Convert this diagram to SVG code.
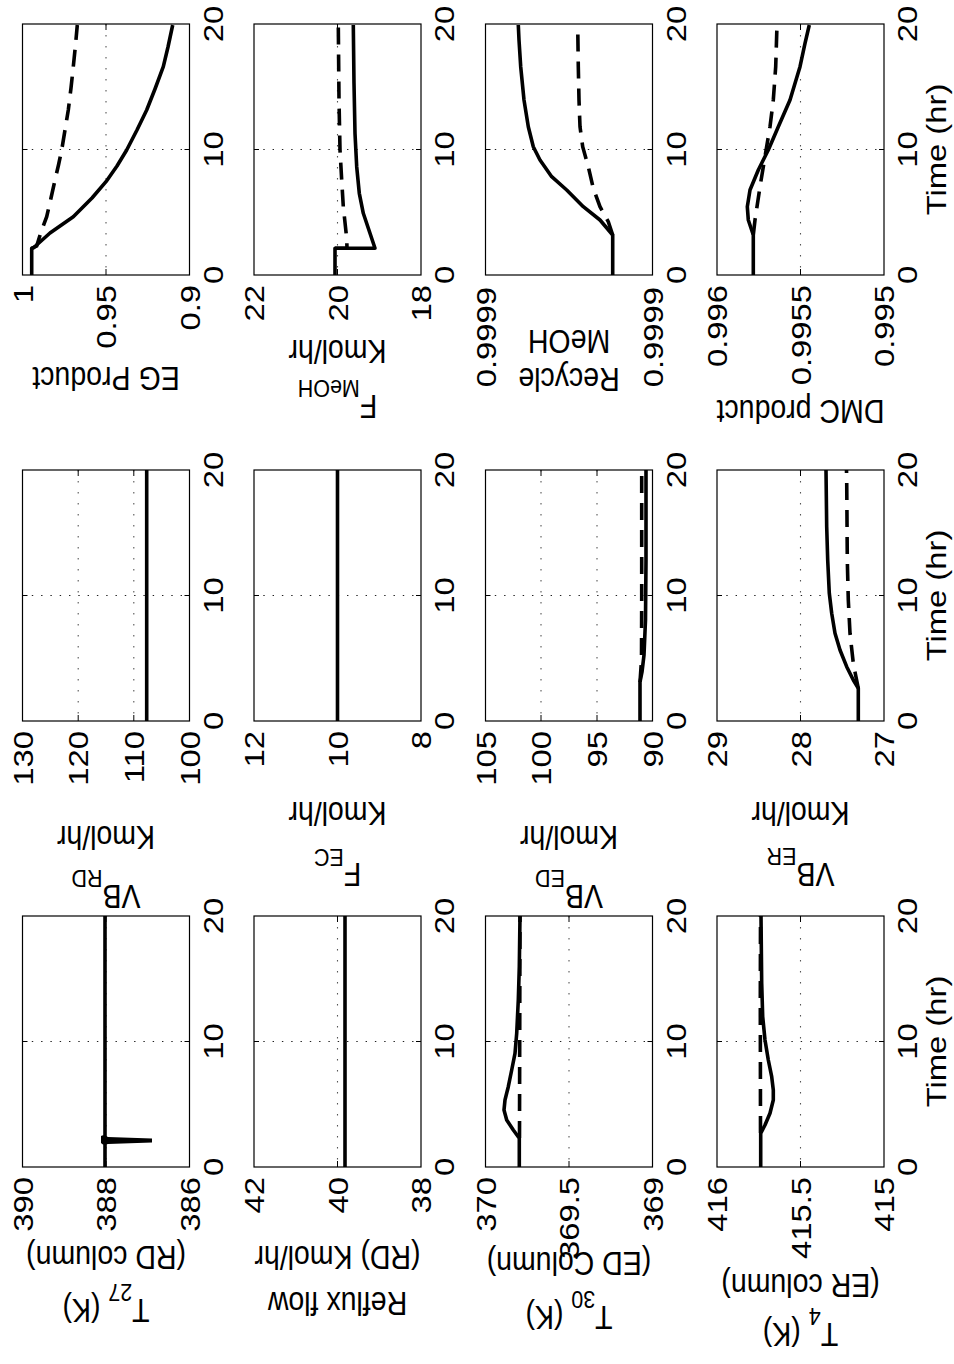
<svg xmlns="http://www.w3.org/2000/svg" width="954" height="1364" viewBox="0 0 954 1364">
<style>
.box{fill:none;stroke:#000;stroke-width:1.2}
.tk{stroke:#000;stroke-width:1}
.gh{stroke:#222;stroke-width:1.1;stroke-dasharray:1.4 7.9}
.gv{stroke:#555;stroke-width:1.1;stroke-dasharray:1.6 9.4}
.s{fill:none;stroke:#000;stroke-width:3.6;stroke-linejoin:round;stroke-linecap:butt}
.d{fill:none;stroke:#000;stroke-width:3.6;stroke-dasharray:17 10}
text{font-family:"Liberation Sans",Arial,Helvetica,sans-serif;font-size:28.5px;fill:#000}
.m{text-anchor:middle}
.e{text-anchor:end}
.sub{font-size:21.5px}
</style>
<rect width="954" height="1364" fill="#fff"/>

<!-- ===== Plot EG Product ===== -->
<g id="plot-eg-product">
<line class="gh" x1="22.5" y1="149.5" x2="189.5" y2="149.5"/>
<line class="gv" x1="106" y1="24" x2="106" y2="275"/>
<path class="tk" d="M106,24v6M106,275v-6M22.5,149.5h5M189.5,149.5h-5"/>
<polyline class="d" points="31.7,248.3 36.7,246 41,232 46.7,216.7 51,198 55,180 58.5,165 61.7,150 65,130 68.3,110 71,88 73.3,66.7 75.5,45 77.3,25"/>
<polyline class="s" points="31.7,275 31.7,248.3 33.3,248 50,233 73.3,216.7 92,198 106,181.7 117,166 126.7,150 137,130 146.7,110 155,89 163.3,66.7 168,47 172.7,25"/>
<rect class="box" x="22.5" y="24" width="167" height="251"/>
<text class="e" transform="translate(32.7,285) scale(1,1.15) rotate(-90)">1</text>
<text class="e" transform="translate(116.2,285) scale(1,1.15) rotate(-90)">0.95</text>
<text class="e" transform="translate(199.7,285) scale(1,1.15) rotate(-90)">0.9</text>
<text class="m" transform="translate(222.5,275) scale(1,1.15) rotate(-90)">0</text>
<text class="m" transform="translate(222.5,149.5) scale(1,1.15) rotate(-90)">10</text>
<text class="m" transform="translate(222.5,24) scale(1,1.15) rotate(-90)">20</text>
<text class="m" transform="translate(106,367) scale(1,1.15) rotate(180)">EG Product</text>
</g>

<!-- ===== Plot F_MeOH ===== -->
<g id="plot-f-meoh">
<line class="gh" x1="254" y1="149.5" x2="421" y2="149.5"/>
<line class="gv" x1="337.5" y1="24" x2="337.5" y2="275"/>
<path class="tk" d="M337.5,24v6M337.5,275v-6M254,149.5h5M421,149.5h-5"/>
<polyline class="d" points="335,248.3 347,248.3 346.7,238.3 343.3,206.7 341.7,180 340,150 339,100 338.3,25"/>
<polyline class="s" points="335,275 335,248.3 375,248.3 370,233.3 363.3,213.3 359.3,193.3 356.7,166.7 355,133.3 354,83.3 353.3,25"/>
<rect class="box" x="254" y="24" width="167" height="251"/>
<text class="e" transform="translate(264.2,285) scale(1,1.15) rotate(-90)">22</text>
<text class="e" transform="translate(347.7,285) scale(1,1.15) rotate(-90)">20</text>
<text class="e" transform="translate(431.2,285) scale(1,1.15) rotate(-90)">18</text>
<text class="m" transform="translate(454,275) scale(1,1.15) rotate(-90)">0</text>
<text class="m" transform="translate(454,149.5) scale(1,1.15) rotate(-90)">10</text>
<text class="m" transform="translate(454,24) scale(1,1.15) rotate(-90)">20</text>
<text class="m" transform="translate(337.5,340) scale(1,1.15) rotate(180)">Kmol/hr</text>
<text class="m" transform="translate(337.5,395) scale(1,1.15) rotate(180)">F<tspan class="sub" dy="13">MeOH</tspan></text>
</g>

<!-- ===== Plot Recycle MeOH ===== -->
<g id="plot-recycle-meoh">
<line class="gh" x1="485.5" y1="149.5" x2="652.5" y2="149.5"/>
<path class="tk" d="M485.5,149.5h5M652.5,149.5h-5"/>
<polyline class="d" points="612.7,235 608.3,221.7 600,206.7 593.3,188.3 588.3,166.7 582.7,146.7 580,126.7 579,100 578.3,66.7 577.7,25"/>
<polyline class="s" points="612.7,275 612.7,235 600,220 583.3,206.7 566.7,190 551.7,176.7 540,160 533.3,146.7 528.3,126.7 524,100 520.7,66.7 519,40 518.3,25"/>
<rect class="box" x="485.5" y="24" width="167" height="251"/>
<text class="e" transform="translate(495.7,287) scale(1,1.15) rotate(-90)">0.9999</text>
<text class="e" transform="translate(662.7,287) scale(1,1.15) rotate(-90)">0.9999</text>
<text class="m" transform="translate(685.5,275) scale(1,1.15) rotate(-90)">0</text>
<text class="m" transform="translate(685.5,149.5) scale(1,1.15) rotate(-90)">10</text>
<text class="m" transform="translate(685.5,24) scale(1,1.15) rotate(-90)">20</text>
<text class="m" transform="translate(569,330) scale(1,1.15) rotate(180)">MeOH</text>
<text class="m" transform="translate(569,368) scale(1,1.15) rotate(180)">Recycle</text>
</g>

<!-- ===== Plot DMC product ===== -->
<g id="plot-dmc-product">
<line class="gh" x1="717" y1="149.5" x2="884" y2="149.5"/>
<line class="gv" x1="800.5" y1="24" x2="800.5" y2="275"/>
<path class="tk" d="M800.5,24v6M800.5,275v-6M717,149.5h5M884,149.5h-5"/>
<polyline class="d" points="753.3,235 755,220 760,186.7 765,156.7 770,126.7 773.3,100 775.7,66.7 777,25"/>
<polyline class="s" points="753.3,275 753.3,235 748.3,220 747.3,206.7 750,190 758.3,170 768.3,150 778.3,126.7 790,100 800,66.7 805,43.3 809.3,25"/>
<rect class="box" x="717" y="24" width="167" height="251"/>
<text class="e" transform="translate(727.2,285) scale(1,1.15) rotate(-90)">0.996</text>
<text class="e" transform="translate(810.7,285) scale(1,1.15) rotate(-90)">0.9955</text>
<text class="e" transform="translate(894.2,285) scale(1,1.15) rotate(-90)">0.995</text>
<text class="m" transform="translate(917,275) scale(1,1.15) rotate(-90)">0</text>
<text class="m" transform="translate(917,149.5) scale(1,1.15) rotate(-90)">10</text>
<text class="m" transform="translate(917,24) scale(1,1.15) rotate(-90)">20</text>
<text class="m" transform="translate(800.5,400) scale(1,1.15) rotate(180)">DMC product</text>
</g>

<!-- ===== Plot VB_RD ===== -->
<g id="plot-vb-rd">
<line class="gh" x1="22.5" y1="595.5" x2="189.5" y2="595.5"/>
<line class="gv" x1="78.2" y1="470" x2="78.2" y2="721"/>
<line class="gv" x1="133.8" y1="470" x2="133.8" y2="721"/>
<path class="tk" d="M78.2,470v6M78.2,721v-6M133.8,470v6M133.8,721v-6M22.5,595.5h5M189.5,595.5h-5"/>
<line class="s" x1="146.7" y1="721" x2="146.7" y2="470"/>
<rect class="box" x="22.5" y="470" width="167" height="251"/>
<text class="e" transform="translate(32.7,731) scale(1,1.15) rotate(-90)">130</text>
<text class="e" transform="translate(88.4,731) scale(1,1.15) rotate(-90)">120</text>
<text class="e" transform="translate(144,731) scale(1,1.15) rotate(-90)">110</text>
<text class="e" transform="translate(199.7,731) scale(1,1.15) rotate(-90)">100</text>
<text class="m" transform="translate(222.5,721) scale(1,1.15) rotate(-90)">0</text>
<text class="m" transform="translate(222.5,595.5) scale(1,1.15) rotate(-90)">10</text>
<text class="m" transform="translate(222.5,470) scale(1,1.15) rotate(-90)">20</text>
<text class="m" transform="translate(106,826) scale(1,1.15) rotate(180)">Kmol/hr</text>
<text class="m" transform="translate(106,885) scale(1,1.15) rotate(180)">VB<tspan class="sub" dy="13">RD</tspan></text>
</g>

<!-- ===== Plot F_EC ===== -->
<g id="plot-f-ec">
<line class="gh" x1="254" y1="595.5" x2="421" y2="595.5"/>
<path class="tk" d="M337.5,470v6M337.5,721v-6M254,595.5h5M421,595.5h-5"/>
<line class="s" x1="337.5" y1="721" x2="337.5" y2="470"/>
<rect class="box" x="254" y="470" width="167" height="251"/>
<text class="e" transform="translate(264.2,731) scale(1,1.15) rotate(-90)">12</text>
<text class="e" transform="translate(347.7,731) scale(1,1.15) rotate(-90)">10</text>
<text class="e" transform="translate(431.2,731) scale(1,1.15) rotate(-90)">8</text>
<text class="m" transform="translate(454,721) scale(1,1.15) rotate(-90)">0</text>
<text class="m" transform="translate(454,595.5) scale(1,1.15) rotate(-90)">10</text>
<text class="m" transform="translate(454,470) scale(1,1.15) rotate(-90)">20</text>
<text class="m" transform="translate(337.5,802) scale(1,1.15) rotate(180)">Kmol/hr</text>
<text class="m" transform="translate(337.5,863) scale(1,1.15) rotate(180)">F<tspan class="sub" dy="12">EC</tspan></text>
</g>

<!-- ===== Plot VB_ED ===== -->
<g id="plot-vb-ed">
<line class="gh" x1="485.5" y1="595.5" x2="652.5" y2="595.5"/>
<line class="gv" x1="541" y1="470" x2="541" y2="721"/>
<line class="gv" x1="597" y1="470" x2="597" y2="721"/>
<path class="tk" d="M541,470v6M541,721v-6M597,470v6M597,721v-6M485.5,595.5h5M652.5,595.5h-5"/>
<polyline class="d" points="640,682 641.5,660 641.7,600 641.7,470"/>
<polyline class="s" points="640,721 640,682 642,672 644,655 645.5,620 646,560 646,470"/>
<rect class="box" x="485.5" y="470" width="167" height="251"/>
<text class="e" transform="translate(495.7,731) scale(1,1.15) rotate(-90)">105</text>
<text class="e" transform="translate(551.2,731) scale(1,1.15) rotate(-90)">100</text>
<text class="e" transform="translate(607.2,731) scale(1,1.15) rotate(-90)">95</text>
<text class="e" transform="translate(662.7,731) scale(1,1.15) rotate(-90)">90</text>
<text class="m" transform="translate(685.5,721) scale(1,1.15) rotate(-90)">0</text>
<text class="m" transform="translate(685.5,595.5) scale(1,1.15) rotate(-90)">10</text>
<text class="m" transform="translate(685.5,470) scale(1,1.15) rotate(-90)">20</text>
<text class="m" transform="translate(569,826) scale(1,1.15) rotate(180)">Kmol/hr</text>
<text class="m" transform="translate(569,885) scale(1,1.15) rotate(180)">VB<tspan class="sub" dy="13">ED</tspan></text>
</g>

<!-- ===== Plot VB_ER ===== -->
<g id="plot-vb-er">
<line class="gh" x1="717" y1="595.5" x2="884" y2="595.5"/>
<line class="gv" x1="800.5" y1="470" x2="800.5" y2="721"/>
<path class="tk" d="M800.5,470v6M800.5,721v-6M717,595.5h5M884,595.5h-5"/>
<polyline class="d" points="858.3,688.3 855,672 853.3,663.3 850,633.3 848.3,600 847.3,560 846.7,480 846.5,470"/>
<polyline class="s" points="858.3,721 858.3,688.3 853.3,680 846.7,666.7 840,650 835,633.3 831.7,613.3 829.3,593.3 827.7,560 826.7,526.7 826,470"/>
<rect class="box" x="717" y="470" width="167" height="251"/>
<text class="e" transform="translate(727.2,731) scale(1,1.15) rotate(-90)">29</text>
<text class="e" transform="translate(810.7,731) scale(1,1.15) rotate(-90)">28</text>
<text class="e" transform="translate(894.2,731) scale(1,1.15) rotate(-90)">27</text>
<text class="m" transform="translate(917,721) scale(1,1.15) rotate(-90)">0</text>
<text class="m" transform="translate(917,595.5) scale(1,1.15) rotate(-90)">10</text>
<text class="m" transform="translate(917,470) scale(1,1.15) rotate(-90)">20</text>
<text class="m" transform="translate(800.5,802) scale(1,1.15) rotate(180)">Kmol/hr</text>
<text class="m" transform="translate(800.5,863) scale(1,1.15) rotate(180)">VB<tspan class="sub" dy="13">ER</tspan></text>
</g>

<!-- ===== Plot T27 ===== -->
<g id="plot-t27">
<line class="gh" x1="22.5" y1="1041.5" x2="189.5" y2="1041.5"/>
<line class="gv" x1="106" y1="916" x2="106" y2="1167"/>
<path class="tk" d="M106,916v6M106,1167v-6M22.5,1041.5h5M189.5,1041.5h-5"/>
<polyline class="s" points="105,1167 105,916"/>
<path d="M101,1136 Q104,1134 108,1137 L152,1138.5 L152,1142.5 L108,1144 Q103,1146 101,1143 Z" fill="#000"/>
<rect class="box" x="22.5" y="916" width="167" height="251"/>
<text class="e" transform="translate(32.7,1177) scale(1,1.15) rotate(-90)">390</text>
<text class="e" transform="translate(116.2,1177) scale(1,1.15) rotate(-90)">388</text>
<text class="e" transform="translate(199.7,1177) scale(1,1.15) rotate(-90)">386</text>
<text class="m" transform="translate(222.5,1167) scale(1,1.15) rotate(-90)">0</text>
<text class="m" transform="translate(222.5,1041.5) scale(1,1.15) rotate(-90)">10</text>
<text class="m" transform="translate(222.5,916) scale(1,1.15) rotate(-90)">20</text>
<text class="m" transform="translate(106,1246) scale(1,1.15) rotate(180)">(RD column)</text>
<text class="m" transform="translate(106,1299) scale(1,1.15) rotate(180)">T<tspan class="sub" dy="13">27</tspan><tspan dy="-13"> (K)</tspan></text>
</g>

<!-- ===== Plot Reflux ===== -->
<g id="plot-reflux">
<line class="gh" x1="254" y1="1041.5" x2="421" y2="1041.5"/>
<line class="gv" x1="337.5" y1="916" x2="337.5" y2="1167"/>
<path class="tk" d="M337.5,916v6M337.5,1167v-6M254,1041.5h5M421,1041.5h-5"/>
<line class="s" x1="345" y1="1167" x2="345" y2="916"/>
<rect class="box" x="254" y="916" width="167" height="251"/>
<text class="e" transform="translate(264.2,1177) scale(1,1.15) rotate(-90)">42</text>
<text class="e" transform="translate(347.7,1177) scale(1,1.15) rotate(-90)">40</text>
<text class="e" transform="translate(431.2,1177) scale(1,1.15) rotate(-90)">38</text>
<text class="m" transform="translate(454,1167) scale(1,1.15) rotate(-90)">0</text>
<text class="m" transform="translate(454,1041.5) scale(1,1.15) rotate(-90)">10</text>
<text class="m" transform="translate(454,916) scale(1,1.15) rotate(-90)">20</text>
<text class="m" transform="translate(337.5,1246) scale(1,1.15) rotate(180)">(RD) Kmol/hr</text>
<text class="m" transform="translate(337.5,1292) scale(1,1.15) rotate(180)">Reflux flow</text>
</g>

<!-- ===== Plot T30 ===== -->
<g id="plot-t30">
<line class="gh" x1="485.5" y1="1041.5" x2="652.5" y2="1041.5"/>
<line class="gv" x1="569" y1="916" x2="569" y2="1167"/>
<path class="tk" d="M569,916v6M569,1167v-6M485.5,1041.5h5M652.5,1041.5h-5"/>
<polyline class="d" points="519.5,1138 519.8,1000 520,916"/>
<polyline class="s" points="519.3,1167 519.3,1138.3 513.3,1130 506.7,1120 504,1110 505,1100 508.3,1086.7 511.7,1070 515,1053.3 516.7,1033.3 518.3,1000 519.3,966.7 520,916"/>
<rect class="box" x="485.5" y="916" width="167" height="251"/>
<text class="e" transform="translate(495.7,1177) scale(1,1.15) rotate(-90)">370</text>
<text class="e" transform="translate(579.2,1177) scale(1,1.15) rotate(-90)">369.5</text>
<text class="e" transform="translate(662.7,1177) scale(1,1.15) rotate(-90)">369</text>
<text class="m" transform="translate(685.5,1167) scale(1,1.15) rotate(-90)">0</text>
<text class="m" transform="translate(685.5,1041.5) scale(1,1.15) rotate(-90)">10</text>
<text class="m" transform="translate(685.5,916) scale(1,1.15) rotate(-90)">20</text>
<text class="m" transform="translate(569,1252) scale(1,1.15) rotate(180)">(ED Column)</text>
<text class="m" transform="translate(569,1306) scale(1,1.15) rotate(180)">T<tspan class="sub" dy="13">30</tspan><tspan dy="-13"> (K)</tspan></text>
</g>

<!-- ===== Plot T4 ===== -->
<g id="plot-t4">
<line class="gh" x1="717" y1="1041.5" x2="884" y2="1041.5"/>
<line class="gv" x1="800.5" y1="916" x2="800.5" y2="1167"/>
<path class="tk" d="M800.5,916v6M800.5,1167v-6M717,1041.5h5M884,1041.5h-5"/>
<polyline class="d" points="760.5,1133 760.3,1000 760.5,916"/>
<polyline class="s" points="760.7,1167 760.7,1133.3 765,1125 770,1113.3 773.3,1100 773.3,1090 771.7,1076.7 768.3,1060 765,1040 762.7,1016.7 761.7,983.3 761,916"/>
<rect class="box" x="717" y="916" width="167" height="251"/>
<text class="e" transform="translate(727.2,1177) scale(1,1.15) rotate(-90)">416</text>
<text class="e" transform="translate(810.7,1177) scale(1,1.15) rotate(-90)">415.5</text>
<text class="e" transform="translate(894.2,1177) scale(1,1.15) rotate(-90)">415</text>
<text class="m" transform="translate(917,1167) scale(1,1.15) rotate(-90)">0</text>
<text class="m" transform="translate(917,1041.5) scale(1,1.15) rotate(-90)">10</text>
<text class="m" transform="translate(917,916) scale(1,1.15) rotate(-90)">20</text>
<text class="m" transform="translate(800.5,1274) scale(1,1.15) rotate(180)">(ER column)</text>
<text class="m" transform="translate(800.5,1323) scale(1,1.15) rotate(180)">T<tspan class="sub" dy="13">4</tspan><tspan dy="-13"> (K)</tspan></text>
</g>

<!-- ===== Axis titles ===== -->
<g id="time-labels">
<text class="m" transform="translate(945.5,149.5) scale(1,1.15) rotate(-90)">Time (hr)</text>
<text class="m" transform="translate(945.5,595.5) scale(1,1.15) rotate(-90)">Time (hr)</text>
<text class="m" transform="translate(945.5,1041.5) scale(1,1.15) rotate(-90)">Time (hr)</text>
</g>
<g id="connectors"/>
</svg>
